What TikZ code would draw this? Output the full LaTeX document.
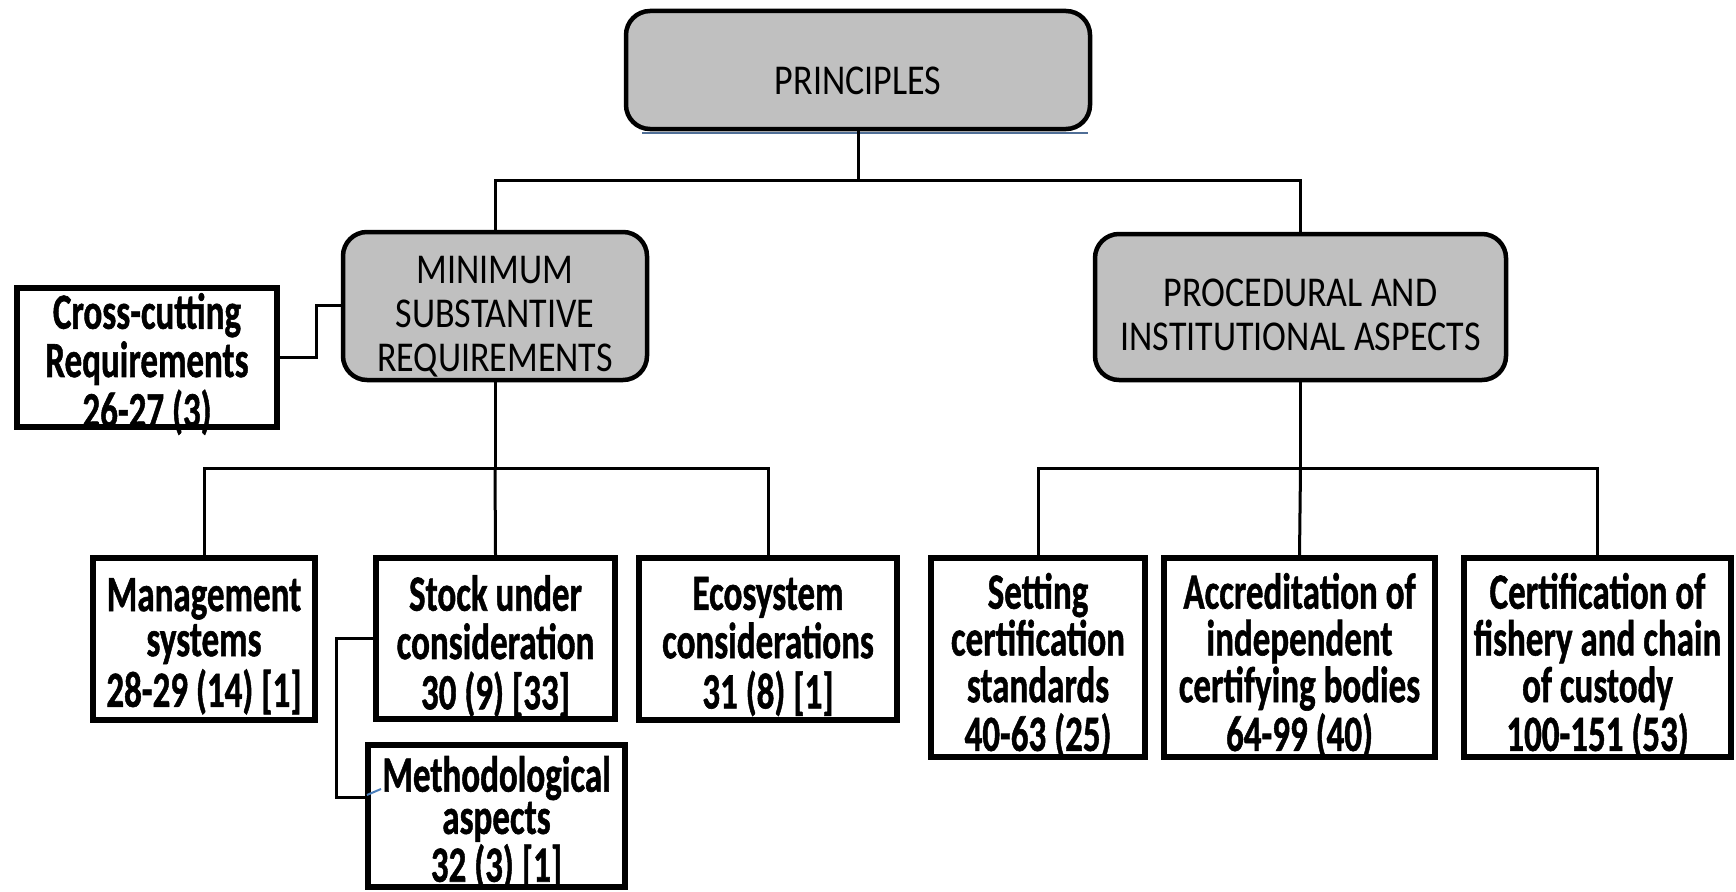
\documentclass[tikz,border=0pt]{standalone}
\usepackage{fontspec}
\setmainfont{Carlito}[BoldFeatures={FakeBold=1.2}]
\usepackage{graphicx}
\definecolor{boxgray}{RGB}{192,192,192}
\definecolor{shadowblue}{RGB}{79,110,150}
\definecolor{markblue}{RGB}{74,126,187}
% #1 = shift down, #2 = baselineskip, #3 = lines; zero-size box so the node keeps its own size
\newcommand\btext[3][19pt]{\raisebox{-#1}[0pt][0pt]{\scalebox{1}[1.45]{\fontsize{35}{#2}\selectfont\bfseries\begin{tabular}{@{}c@{}}#3\end{tabular}}}}
\newcommand\gtext[2][20pt]{\raisebox{-#1}[0pt][0pt]{\scalebox{1}[1.18]{\begin{tabular}{@{}c@{}}#2\end{tabular}}}}
\begin{document}
\begin{tikzpicture}[x=1pt,y=-1pt,
  gbox/.style={draw, line width=4.5pt, fill=boxgray, rounded corners=24pt, inner sep=0pt, font=\fontsize{36}{37}\selectfont},
  wbox/.style={draw, line width=6pt, fill=white, inner sep=0pt},
  conn/.style={line width=3pt}]
\useasboundingbox[fill=white] (0,0) rectangle (1736,891);

% shadow under principles
\draw[line width=2.5pt, shadowblue] (642,133) -- (1088,133);

\node[gbox, minimum width=464pt, minimum height=118pt] (principles) at (858,70) {\gtext[23pt]{PRINCIPLES}};
\node[gbox, minimum width=304pt, minimum height=148pt] (minimum) at (495,306) {\gtext{MINIMUM\\SUBSTANTIVE\\REQUIREMENTS}};
\node[gbox, minimum width=411pt, minimum height=146pt] (procedural) at (1300.5,307) {\gtext{PROCEDURAL AND\\INSTITUTIONAL ASPECTS}};

\node[wbox, minimum width=260pt, minimum height=139pt] (cross) at (147,357.5) {\btext[18pt]{29}{Cross-cutting\\Requirements\\26-27 (3)}};
\node[wbox, minimum width=222pt, minimum height=162pt] (mgmt) at (204,639) {\btext{30}{Management\\systems\\28-29 (14) [1]}};
\node[wbox, minimum width=239pt, minimum height=161pt] (stock) at (495.5,638.5) {\btext{29}{Stock under\\consideration\\30 (9) [33]}};
\node[wbox, minimum width=258pt, minimum height=162pt] (eco) at (768,639) {\btext{29}{Ecosystem\\considerations\\31 (8) [1]}};
\node[wbox, minimum width=257pt, minimum height=142pt] (method) at (496.5,816) {\btext[17pt]{23.5}{Methodological\\aspects\\32 (3) [1]}};
\node[wbox, minimum width=214pt, minimum height=199pt] (setting) at (1038,657.5) {\btext{25.5}{Setting\\certification\\standards\\40-63 (25)}};
\node[wbox, minimum width=271pt, minimum height=199pt] (accred) at (1299.5,657.5) {\btext{25.5}{Accreditation of\\independent\\certifying bodies\\64-99 (40)}};
\node[wbox, minimum width=267pt, minimum height=199pt] (cert) at (1597.5,657.5) {\btext{25.5}{Certification of\\fishery and chain\\of custody\\100-151 (53)}};

\coordinate (j1) at (858,180);
\coordinate (j2) at (495,468);
\coordinate (j3) at (1300.5,468);

\draw[conn] (principles.south) -- (j1);
\draw[conn] (j1) -| (minimum.north);
\draw[conn] (j1) -| (procedural.north);

\draw[conn] (minimum.south) -- (j2);
\draw[conn] (j2) -| (mgmt.north);
\draw[conn] (j2) -- (stock.north);
\draw[conn] (j2) -| (eco.north);

\draw[conn] (procedural.south) -- (j3);
\draw[conn] (j3) -| (setting.north);
\draw[conn] (j3) -- (accred.north);
\draw[conn] (j3) -| (cert.north);

\draw[conn] (cross.east) -- ++(36,0) |- ([yshift=1pt]minimum.west);
\draw[conn] (stock.west) -- ++(-37,0) |- ([yshift=19pt]method.west);

\draw[line width=2pt, markblue] ([xshift=2pt,yshift=21pt]method.west) -- ++(14,-6);
\end{tikzpicture}
\end{document}
